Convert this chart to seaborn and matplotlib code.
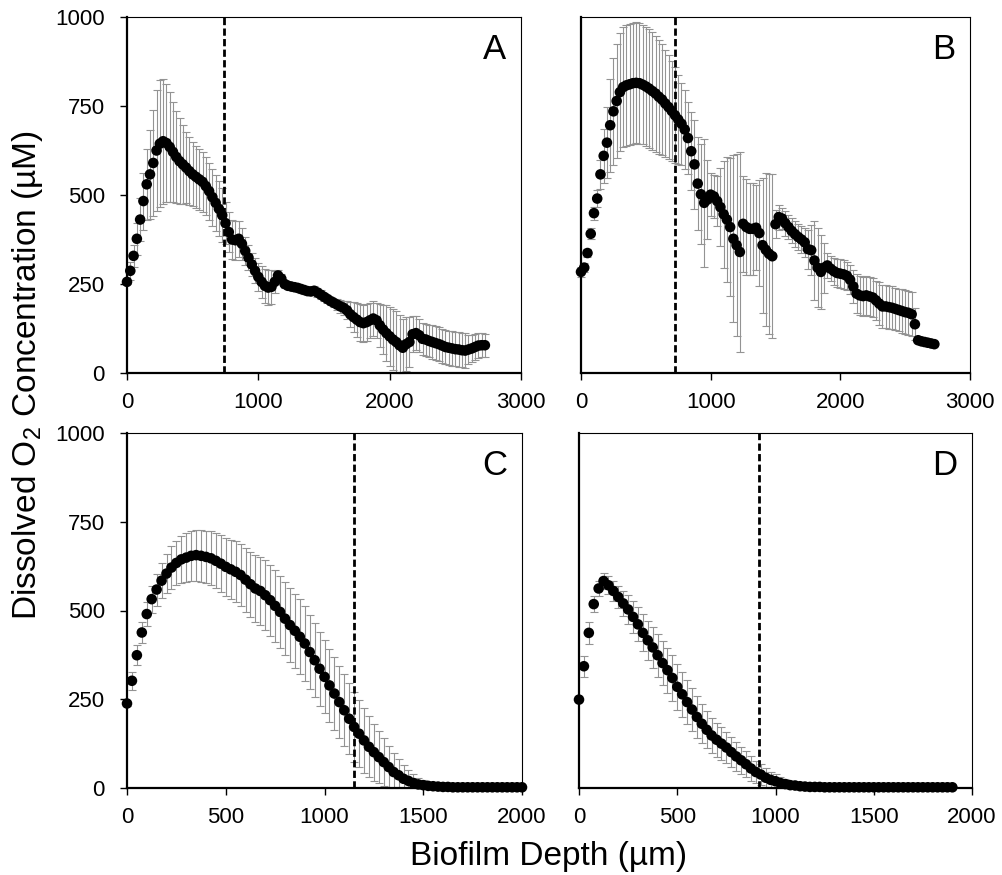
import numpy as np
import pandas as pd
import matplotlib
matplotlib.use("Agg")
import matplotlib.pyplot as plt
import seaborn as sns

# ---------------- data ----------------
depth_AB = [0, 25, 50, 75, 100, 125, 150, 175, 200, 225,
            250, 275, 300, 325, 350, 375, 400, 425, 450, 475,
            500, 525, 550, 575, 600, 625, 650, 675, 700, 725,
            750, 775, 800, 825, 850, 875, 900, 925, 950, 975,
            1000, 1025, 1050, 1075, 1100, 1125, 1150, 1175, 1200, 1225,
            1250, 1275, 1300, 1325, 1350, 1375, 1400, 1425, 1450, 1475,
            1500, 1525, 1550, 1575, 1600, 1625, 1650, 1675, 1700, 1725,
            1750, 1775, 1800, 1825, 1850, 1875, 1900, 1925, 1950, 1975,
            2000, 2025, 2050, 2075, 2100, 2125, 2150, 2175, 2200, 2225,
            2250, 2275, 2300, 2325, 2350, 2375, 2400, 2425, 2450, 2475,
            2500, 2525, 2550, 2575, 2600, 2625, 2650, 2675, 2700, 2725]

depth_C = [0, 25, 50, 75, 100, 125, 150, 175, 200, 225,
           250, 275, 300, 325, 350, 375, 400, 425, 450, 475,
           500, 525, 550, 575, 600, 625, 650, 675, 700, 725,
           750, 775, 800, 825, 850, 875, 900, 925, 950, 975,
           1000, 1025, 1050, 1075, 1100, 1125, 1150, 1175, 1200, 1225,
           1250, 1275, 1300, 1325, 1350, 1375, 1400, 1425, 1450, 1475,
           1500, 1525, 1550, 1575, 1600, 1625, 1650, 1675, 1700, 1725,
           1750, 1775, 1800, 1825, 1850, 1875, 1900, 1925, 1950, 1975,
           2000]

depth_D = [0, 25, 50, 75, 100, 125, 150, 175, 200, 225,
           250, 275, 300, 325, 350, 375, 400, 425, 450, 475,
           500, 525, 550, 575, 600, 625, 650, 675, 700, 725,
           750, 775, 800, 825, 850, 875, 900, 925, 950, 975,
           1000, 1025, 1050, 1075, 1100, 1125, 1150, 1175, 1200, 1225,
           1250, 1275, 1300, 1325, 1350, 1375, 1400, 1425, 1450, 1475,
           1500, 1525, 1550, 1575, 1600, 1625, 1650, 1675, 1700, 1725,
           1750, 1775, 1800, 1825, 1850, 1875, 1900]

o2_A = [256, 287, 329, 377, 431, 483, 530, 558, 590, 625,
        644, 651, 646, 635, 621, 607, 595, 586, 577, 567,
        558, 551, 544, 537, 525, 511, 494, 478, 461, 443,
        421, 396, 375, 373, 377, 363, 343, 324, 305, 287,
        270, 256, 245, 240, 242, 256, 274, 265, 250, 245,
        243, 241, 239, 236, 233, 230, 229, 231, 226, 220,
        214, 208, 202, 197, 192, 187, 183, 176, 165, 157,
        150, 143, 140, 143, 148, 153, 148, 134, 122, 112,
        103, 94, 87, 78, 71, 81, 87, 109, 112, 106,
        96, 94, 90, 87, 84, 81, 77, 73, 71, 69,
        67, 66, 64, 63, 66, 69, 73, 77, 78, 78]
err_A = [6, 25, 30, 45, 60, 80, 100, 125, 150, 170,
         178, 175, 165, 155, 140, 130, 120, 110, 100, 95,
         90, 88, 86, 84, 82, 80, 80, 78, 77, 76,
         60, 55, 55, 55, 50, 45, 40, 35, 32, 35,
         40, 45, 48, 50, 48, 30, 15, 12, 12, 10,
         10, 10, 10, 10, 10, 10, 10, 12, 12, 12,
         12, 12, 12, 12, 15, 18, 20, 25, 35, 42,
         48, 52, 52, 52, 50, 50, 50, 60, 70, 78,
         82, 85, 87, 85, 80, 75, 70, 50, 48, 46,
         45, 45, 46, 47, 48, 48, 48, 48, 48, 48,
         48, 48, 48, 48, 40, 38, 36, 34, 33, 32]

o2_B = [284, 296, 337, 391, 449, 490, 558, 610, 647, 696,
        735, 764, 789, 803, 808, 811, 814, 815, 814, 810,
        805, 799, 792, 785, 776, 768, 757, 747, 736, 724,
        712, 700, 684, 660, 623, 586, 532, 502, 478, 487,
        501, 496, 483, 466, 446, 431, 410, 377, 359, 340,
        419, 410, 405, 405, 408, 393, 359, 346, 335, 328,
        418, 438, 434, 421, 410, 399, 390, 382, 375, 367,
        348, 345, 316, 296, 284, 296, 302, 293, 286, 281,
        279, 277, 273, 262, 243, 223, 218, 216, 218, 215,
        212, 204, 195, 187, 187, 185, 183, 180, 177, 174,
        171, 169, 165, 137, 92, 89, 87, 85, 83, 81]
err_B = [15, 12, 12, 15, 18, 25, 40, 75, 100, 130,
         150, 160, 165, 168, 170, 170, 170, 170, 170, 168,
         167, 166, 165, 163, 160, 155, 150, 145, 140, 135,
         125, 115, 110, 100, 110, 125, 130, 140, 180, 110,
         60, 60, 70, 110, 150, 175, 195, 235, 255, 280,
         135, 135, 130, 130, 120, 150, 190, 215, 225, 230,
         40, 35, 30, 35, 35, 35, 36, 37, 38, 40,
         55, 70, 110, 110, 105, 70, 35, 35, 38, 40,
         40, 40, 40, 40, 45, 55, 55, 55, 55, 55,
         55, 55, 60, 60, 60, 60, 60, 60, 60, 62,
         62, 62, 62, 45, 6, 6, 6, 6, 6, 6]

o2_C = [238, 302, 374, 438, 490, 532, 559, 584, 604, 621,
        634, 644, 649, 654, 656, 654, 651, 647, 640, 632,
        623, 616, 609, 600, 587, 574, 562, 555, 543, 529,
        513, 496, 477, 459, 443, 426, 407, 383, 360, 336,
        313, 289, 266, 242, 219, 195, 172, 153, 134, 116,
        101, 87, 73, 59, 45, 36, 26, 20, 14, 10,
        8, 6, 5, 4, 3, 3, 2, 2, 2, 2,
        2, 2, 2, 2, 2, 2, 2, 2, 2, 2,
        2]
err_C = [8, 25, 28, 30, 33, 38, 45, 50, 55, 60,
         63, 66, 68, 70, 72, 73, 74, 76, 78, 80,
         82, 84, 86, 88, 90, 92, 94, 96, 98, 100,
         101, 102, 103, 104, 104, 105, 105, 105, 104, 104,
         103, 103, 102, 102, 101, 100, 98, 95, 91, 86,
         80, 74, 67, 60, 53, 46, 39, 32, 25, 19,
         14, 10, 7, 5, 4, 3, 2, 2, 2, 2,
         2, 2, 2, 2, 2, 2, 2, 2, 2, 2,
         2]

o2_D = [249, 343, 437, 518, 562, 583, 571, 555, 538, 520,
        503, 482, 461, 437, 416, 396, 374, 352, 332, 310,
        285, 264, 242, 221, 200, 181, 164, 148, 136, 125,
        114, 101, 89, 78, 67, 55, 45, 38, 29, 23,
        19, 14, 11, 8, 7, 5, 4, 3, 3, 3,
        2, 2, 2, 2, 2, 2, 2, 2, 2, 2,
        2, 2, 2, 2, 2, 2, 2, 2, 2, 2,
        2, 2, 2, 2, 2, 2, 2]
err_D = [5, 30, 32, 22, 20, 22, 25, 28, 32, 36,
         40, 44, 48, 52, 55, 58, 60, 62, 63, 64,
         64, 63, 62, 60, 58, 55, 52, 50, 48, 46,
         44, 42, 40, 38, 36, 34, 32, 29, 26, 23,
         20, 17, 14, 11, 9, 7, 5, 3, 3, 3,
         2, 2, 2, 2, 2, 2, 2, 2, 2, 2,
         2, 2, 2, 2, 2, 2, 2, 2, 2, 2,
         2, 2, 2, 2, 2, 2, 2]

panel_labels = ["A", "B", "C", "D"]
boundary_depth = [735, 728, 1150, 915]
x_max = [3000, 3000, 2000, 2000]
x_ticks_AB = [0, 1000, 2000, 3000]
x_ticks_CD = [0, 500, 1000, 1500, 2000]
y_ticks = [0, 250, 500, 750, 1000]

# ---------------- style ----------------
sns.set_theme(style="white")
plt.rcParams["font.family"] = ["Liberation Sans", "DejaVu Sans"]
plt.rcParams["mathtext.fontset"] = "custom"
plt.rcParams["mathtext.rm"] = "Liberation Sans"
plt.rcParams["mathtext.it"] = "Liberation Sans:italic"

W, H = 1002, 875
fig = plt.figure(figsize=(W / 100, H / 100), dpi=100)

# axes boxes in pixel coords (left, right, top, bottom)
boxes = [(127, 521, 17, 373), (581, 970, 17, 373),
         (127, 522, 433, 788), (579, 972, 433, 788)]

series = [(depth_AB, o2_A, err_A), (depth_AB, o2_B, err_B),
          (depth_C, o2_C, err_C), (depth_D, o2_D, err_D)]

for k, ((l, r, t, b), (dep, o2, er)) in enumerate(zip(boxes, series)):
    ax = fig.add_axes([l / W, 1 - b / H, (r - l) / W, (b - t) / H])
    df = pd.DataFrame({"depth": dep, "o2": o2, "err": er})
    lower = np.minimum(df["err"].values, df["o2"].values)
    cont = ax.errorbar(df["depth"], df["o2"], yerr=[lower, df["err"].values],
                       fmt="none", ecolor="#939393", elinewidth=0.8,
                       capsize=2.7, capthick=0.8, zorder=2)
    for child in cont.get_children():
        child.set_clip_on(False)
    sns.scatterplot(data=df, x="depth", y="o2", ax=ax, color="black",
                    s=58, edgecolor="none", linewidth=0, zorder=3,
                    legend=False, clip_on=False)
    ax.axvline(boundary_depth[k], color="black", lw=2.0,
               linestyle=(0, (2.6, 1.2)), zorder=4)
    ax.set_xlim(0, x_max[k])
    ax.set_ylim(0, 1000)
    ax.set_xticks(x_ticks_AB if k < 2 else x_ticks_CD)
    ax.set_yticks(y_ticks)
    ax.set_xlabel("")
    ax.set_ylabel("")
    ax.grid(False)
    ax.tick_params(axis="both", direction="out", length=5, width=1,
                   color="black", labelsize=16, labelcolor="black")
    ax.tick_params(axis="x", bottom=True, pad=9)
    if k in (0, 2):
        ax.tick_params(axis="y", left=True, pad=11)
    else:
        ax.tick_params(axis="y", left=False, labelleft=False)
    for side in ("left", "bottom"):
        ax.spines[side].set_linewidth(1.6)
        ax.spines[side].set_color("black")
    for side in ("top", "right"):
        ax.spines[side].set_linewidth(0.8)
        ax.spines[side].set_color("black")
    ax.text(0.962, 0.882, panel_labels[k], transform=ax.transAxes,
            ha="right", va="baseline", fontsize=25, color="black")

fig.text(549 / W, 1 - 865 / H, "Biofilm Depth (µm)", ha="center",
         va="baseline", fontsize=24, color="black")
fig.text(28 / W, 1 - 375 / H, r"Dissolved O$_\mathregular{2}$ Concentration (µM)",
         rotation=90, ha="center", va="center", fontsize=24, color="black")

fig.savefig("out.png", dpi=100)
